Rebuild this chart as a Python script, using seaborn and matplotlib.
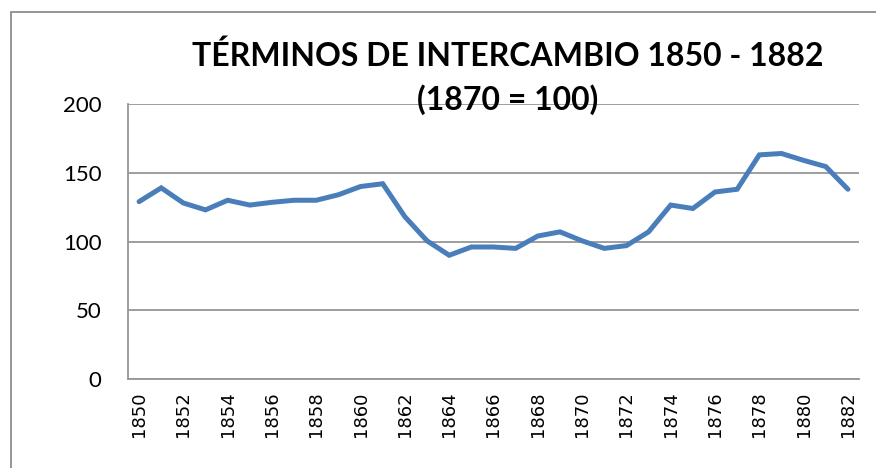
import numpy as np
import pandas as pd
import matplotlib
matplotlib.use("Agg")
import matplotlib.pyplot as plt
import seaborn as sns
from matplotlib.patches import Rectangle

# terms of trade index, 1870 = 100
years = list(range(1850, 1883))
index_values = [129, 139, 128, 123, 130, 126.5, 128.5, 130, 130, 134, 140, 142,
                118, 100.5, 90, 96, 96, 95, 104, 107, 100.5, 95, 97, 107,
                126.5, 124, 136, 138, 163, 164, 159, 154.5, 138]
x_ticks = list(range(1850, 1883, 2))
y_ticks = [0, 50, 100, 150, 200]
title = "TÉRMINOS DE INTERCAMBIO 1850 - 1882\n(1870 = 100)"

df = pd.DataFrame({"year": years, "value": index_values})

sns.set_style("white")
plt.rcParams['font.family'] = ['Lato', 'DejaVu Sans']

fig = plt.figure(figsize=(8.76, 4.68), dpi=100)
ax = fig.add_axes([128/876, 1 - 379/468, (859 - 128)/876, (379 - 104)/468])

sns.lineplot(data=df, x="year", y="value", ax=ax, color="#4a7ebb",
             linewidth=3.6, solid_joinstyle="miter")

grid_c = "#969696"
ax.set_xlim(1849.5, 1882.5)
ax.set_ylim(0, 200)
ax.set_yticks(y_ticks)
ax.set_xticks(x_ticks)
ax.set_xticklabels([str(y) for y in x_ticks], rotation=90,
                   fontsize=13, family=['DejaVu Sans'], color="black")
ax.set_yticklabels([str(v) for v in y_ticks], fontsize=16, color="black")
ax.yaxis.grid(True, color=grid_c, linewidth=1.3)
ax.set_axisbelow(True)
ax.tick_params(axis="y", length=8, width=1.3, color=grid_c, pad=11)
ax.tick_params(axis="x", length=0, pad=9)
for s in ["top", "right"]:
    ax.spines[s].set_visible(False)
for s in ["left", "bottom"]:
    ax.spines[s].set_color(grid_c)
    ax.spines[s].set_linewidth(1.3)
ax.set_xlabel("")
ax.set_ylabel("")

fig.text(508/876, 1 - 78/468, title, ha="center", va="center", color="black",
         fontsize=23, fontweight="bold", linespacing=1.5)

# chart frame
fig.patches.append(Rectangle((11/876, -0.1), 1.0, 1 - 12/468 + 0.1,
                             transform=fig.transFigure, fill=False,
                             edgecolor="#8c8c8c", linewidth=1.3))

fig.savefig("out.png", dpi=100)
